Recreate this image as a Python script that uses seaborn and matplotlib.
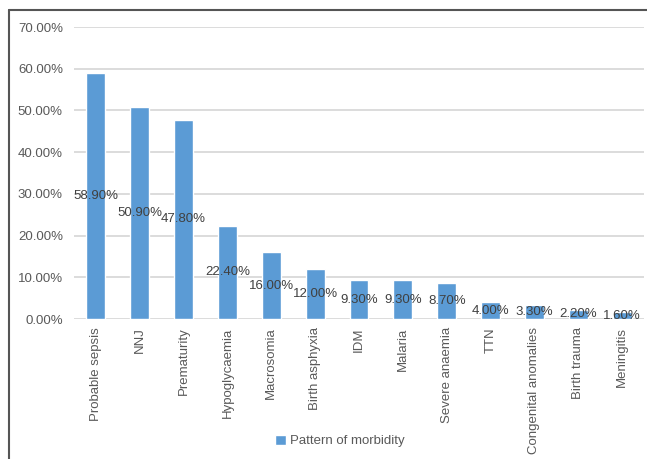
import matplotlib
matplotlib.use("Agg")
import matplotlib.pyplot as plt
import seaborn as sns
import pandas as pd
from matplotlib.lines import Line2D
from matplotlib.ticker import FuncFormatter

categories = ["Probable sepsis", "NNJ", "Prematurity", "Hypoglycaemia", "Macrosomia",
              "Birth asphyxia", "IDM", "Malaria", "Severe anaemia", "TTN",
              "Congenital anomalies", "Birth trauma", "Meningitis"]
values = [58.9, 50.9, 47.8, 22.4, 16.0, 12.0, 9.3, 9.3, 8.7, 4.0, 3.3, 2.2, 1.6]
series_name = "Pattern of morbidity"
yticks = [0, 10, 20, 30, 40, 50, 60, 70]

df = pd.DataFrame({"cat": categories, "val": values})

sns.set_style("white")
plt.rcParams['font.family'] = ['Liberation Sans', 'DejaVu Sans']

fig = plt.figure(figsize=(6.47, 4.59), dpi=100)
ax = fig.add_axes([74/647, 1-319/459, (644-74)/647, (319-27)/459])

sns.barplot(data=df, x="cat", y="val", color="#5B9BD5", saturation=1, width=0.43,
            label=series_name, ax=ax)

ax.set_ylim(0, 70)
ax.set_yticks(yticks)
ax.yaxis.set_major_formatter(FuncFormatter(lambda v, p: f"{v:.2f}%"))
ax.grid(axis="y", color="#d9d9d9", linewidth=1.3)
ax.set_axisbelow(True)
for s in ax.spines.values():
    s.set_visible(False)
ax.set_xlabel("")
ax.set_ylabel("")
ax.tick_params(axis="y", length=0, pad=8, labelsize=9.5, labelcolor="#595959")
ax.tick_params(axis="x", length=0, pad=6, labelsize=9.5, labelcolor="#595959", rotation=90)

cont = ax.containers[0]
ax.bar_label(cont, labels=[f"{v:.2f}%" for v in values], label_type="center",
             fontsize=9.5, color="#404040")

leg = ax.legend(loc="center", bbox_to_anchor=(340/647, 1-441/459), bbox_transform=fig.transFigure,
                frameon=False, fontsize=9.5, handlelength=0.8, handleheight=0.8,
                handletextpad=0.3, labelcolor="#595959")

fig.add_artist(Line2D([9/647, 9/647], [0, 1-10/459], transform=fig.transFigure, color="#555555", lw=1.5))
fig.add_artist(Line2D([9/647, 1], [1-10/459, 1-10/459], transform=fig.transFigure, color="#555555", lw=1.5))

fig.savefig("out.png", dpi=100)
